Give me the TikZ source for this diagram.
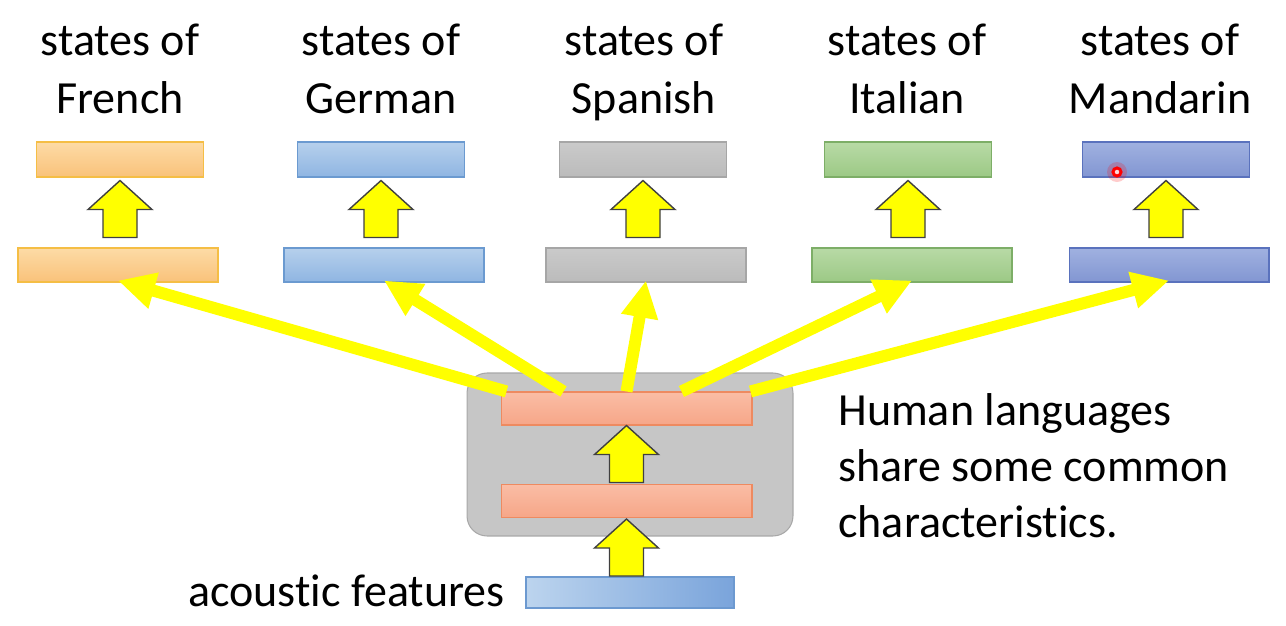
\documentclass[tikz,border=0pt]{standalone}
\usepackage{fontspec}
\setmainfont{Carlito}[Ligatures=NoCommon]
\usetikzlibrary{arrows.meta, positioning, calc}

\definecolor{frTop}{HTML}{FDDBA6}
\definecolor{frBot}{HTML}{F9C27A}
\definecolor{frLine}{HTML}{F5BE45}
\definecolor{deTop}{HTML}{B6D0EC}
\definecolor{deBot}{HTML}{8FB5E2}
\definecolor{deLine}{HTML}{6B9AD0}
\definecolor{esTop}{HTML}{CACACA}
\definecolor{esBot}{HTML}{BBBBBB}
\definecolor{esLine}{HTML}{A6A6A6}
\definecolor{itTop}{HTML}{B8DAA6}
\definecolor{itBot}{HTML}{9CC985}
\definecolor{itLine}{HTML}{7DAE67}
\definecolor{zhTop}{HTML}{A0B1E0}
\definecolor{zhBot}{HTML}{8296D2}
\definecolor{zhLine}{HTML}{5A72BD}
\definecolor{shTop}{HTML}{FABDA5}
\definecolor{shBot}{HTML}{F6A688}
\definecolor{shLine}{HTML}{EE8A60}
\definecolor{boxGray}{HTML}{C6C6C6}
\definecolor{boxLine}{HTML}{A8A8A8}
\definecolor{acLeft}{HTML}{BCD4EE}
\definecolor{acRight}{HTML}{7AA4DB}
\definecolor{acLine}{HTML}{6C99D0}
\definecolor{hiYellow}{HTML}{FFFF00}

\tikzset{
    barbox/.style={draw, line width=0.6pt, inner sep=0pt},
    upbar/.style={barbox, minimum width=3.34cm, minimum height=0.7cm},
    lowbar/.style={barbox, minimum width=4cm, minimum height=0.68cm},
    sharedbar/.style={barbox, draw=shLine, top color=shTop, bottom color=shBot,
        minimum width=5.02cm, minimum height=0.66cm},
    langtext/.style={align=center, inner sep=0pt},
    blockarrow/.style={draw=black!75, line width=0.8pt, fill=hiYellow},
    ray/.style={hiYellow, line width=0.24cm, -{Triangle[length=0.74cm, width=0.7cm]}},
    liftarrow/.pic={
        \draw[blockarrow] (0,0) -- (32,29) -- (17,29) -- (17,57) -- (-17,57)
            -- (-17,29) -- (-32,29) -- cycle;
    }
}

\begin{document}
\begin{tikzpicture}[x=0.02cm, y=-0.02cm, font=\fontsize{26.2}{33}\selectfont]
    \useasboundingbox (0,0) rectangle (1286,626);
    % gemeinsamer Block
    \node[draw=boxLine, fill=boxGray, rounded corners=0.4cm, line width=0.6pt,
        minimum width=6.52cm, minimum height=3.26cm] (enc) at (630,454.5) {};
    \node[sharedbar] (shared) at (626.5,408.5) {};
    \node[sharedbar] (shlow) at (626.5,501) {};
    \node[barbox, draw=acLine, left color=acLeft, right color=acRight,
        minimum width=4.16cm, minimum height=0.62cm] (acoustic) at (630,592.5) {};
    \node[anchor=base east, inner sep=0pt] (actext) at (505,606) {acoustic features};
    \node[anchor=north west, align=left, inner sep=0pt, font=\fontsize{26.2}{31.8}\selectfont]
        (note) at (838,393) {Human languages\\share some common\\characteristics.};
    \pic at (shared.south) {liftarrow};
    \pic at ($(shlow.south)+(0,1)$) {liftarrow};
    % Sprachen: key/upper x/lower x/text x/name
    \foreach \key/\ux/\lx/\tx/\lang in {fr/120/118/120/French, de/381/384/381/German,
        es/643/646/644/Spanish, it/908/912/907/Italian, zh/1166/1169/1160/Mandarin} {
        \node[upbar, draw=\key Line, top color=\key Top, bottom color=\key Bot]
            (\key-up) at (\ux,159.5) {};
        \node[lowbar, draw=\key Line, top color=\key Top, bottom color=\key Bot]
            (\key-low) at (\lx,265) {};
        \node[langtext, anchor=north] (\key-name) at (\tx,24) {states of\\\lang};
        \pic at ($(\key-up.south)+(0,3)$) {liftarrow};
    }
    % Pfeile zu den Sprachen
    \foreach \key/\dx in {fr/-120, de/-63, es/0, it/55, zh/124} {
        \draw[ray] ($(shared.north)+(\dx,0)$) -- ($(\key-low.south)+(0,-2)$);
    }
    % Laserpunkt
    \fill[red, opacity=0.2] (1117,172) circle (10);
    \draw[red, fill=red!15, line width=0.06cm] (1117,172) circle (4);
\end{tikzpicture}
\end{document}
